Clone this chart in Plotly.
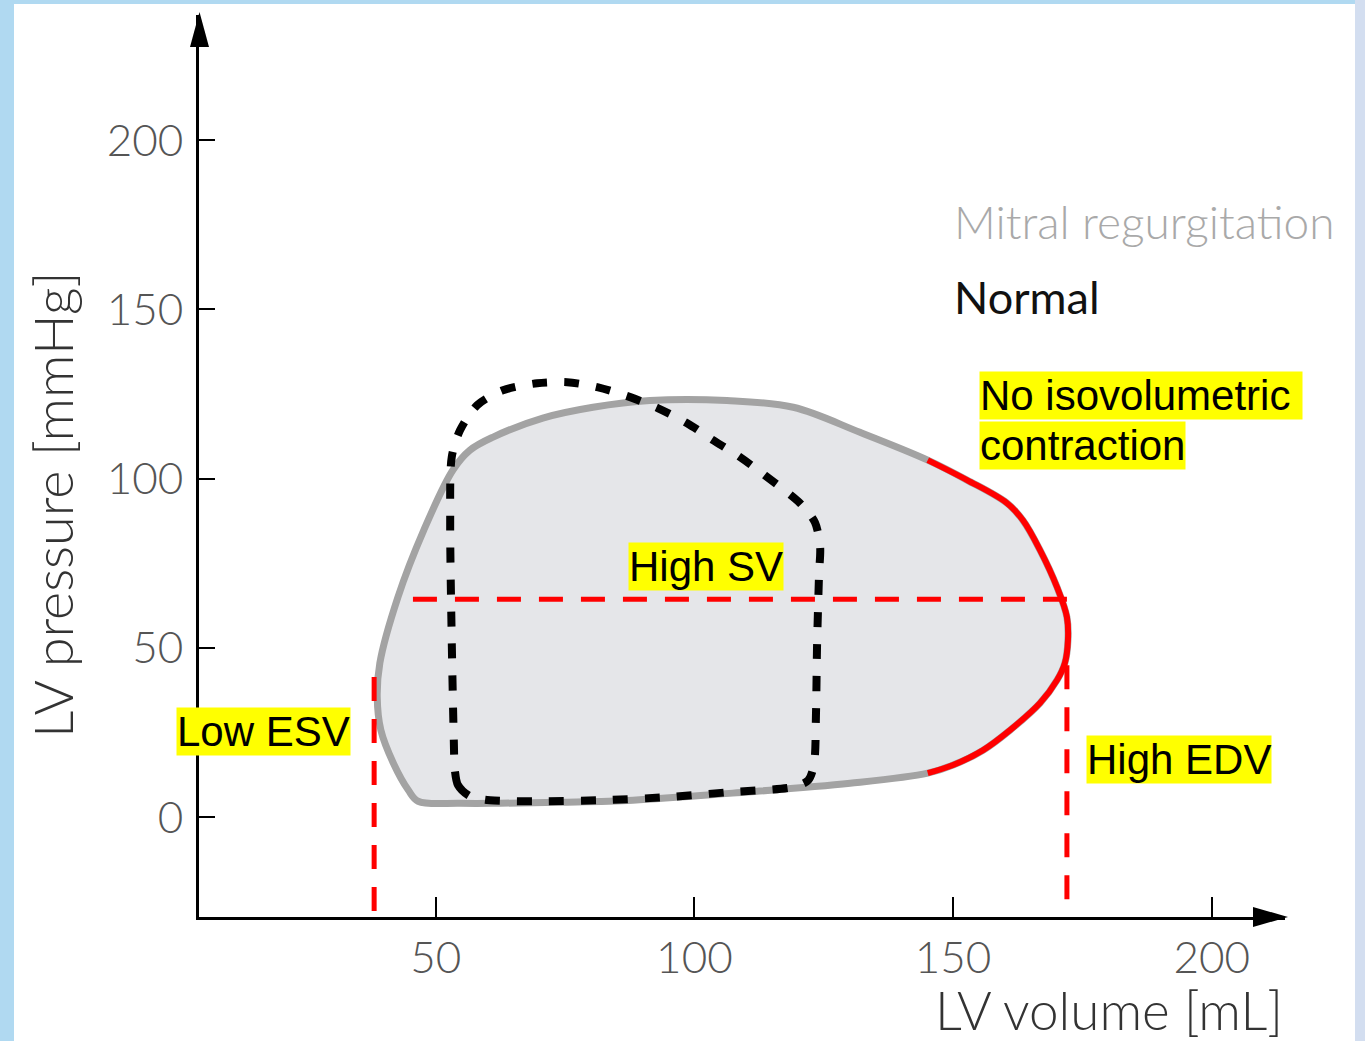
import plotly.graph_objects as go

# ---------------- data ----------------
# Mitral regurgitation loop (LV volume [mL], LV pressure [mmHg])
mr_vol = [46.6, 54.7, 62.4, 74.0, 88.1, 107.4, 130.1, 145.1, 150.0, 155.8, 161.0,
          166.8, 170.1, 171.6, 172.2, 172.0, 170.1, 166.8, 163.5, 160.4, 152.7,
          145.1, 132.0, 119.1, 106.3, 91.4, 80.4, 70.7, 61.1, 56.6, 53.3,
          47.7, 42.7, 39.2, 38.7, 39.4, 41.8, 44.7, 46.6]
mr_pres = [4.7, 4.1, 4.1, 4.4, 5.0, 7.1, 10.0, 13.0, 15.4, 19.8, 25.7,
           33.7, 40.5, 45.5, 52.3, 59.1, 67.9, 78.9, 87.7, 92.8, 99.6,
           105.5, 113.7, 121.1, 123.1, 123.1, 121.1, 117.9, 112.3, 108.4, 102.5,
           84.8, 65.0, 45.5, 35.5, 25.7, 16.0, 8.0, 4.7]

# Highlighted part: no isovolumetric contraction
red_vol = [145.1, 150.0, 155.8, 161.0, 166.8, 170.1, 171.6, 172.2, 172.0, 170.1,
           166.8, 163.5, 160.4, 152.7, 145.1]
red_pres = [13.0, 15.4, 19.8, 25.7, 33.7, 40.5, 45.5, 52.3, 59.1, 67.9,
            78.9, 87.7, 92.8, 99.6, 105.5]

# Normal loop
normal_vol = [53.7, 54.3, 56.6, 60.5, 70.2, 81.8, 94.7, 106.9, 119.1, 122.0, 123.1,
              123.5, 123.7, 124.1, 124.3, 123.3, 120.4, 113.6, 108.8, 103.6, 98.6,
              93.0, 87.6, 81.4, 75.4, 69.6, 63.0, 58.0, 54.7, 53.1, 52.8, 53.1, 53.5, 53.7]
normal_pres = [13.9, 9.5, 6.2, 5.0, 4.7, 5.0, 5.9, 7.4, 8.9, 10.9, 15.4,
               30.7, 50.2, 72.1, 79.8, 87.1, 92.8, 101.0, 106.4, 111.4, 116.4,
               120.8, 124.1, 127.0, 128.5, 128.2, 126.1, 121.7, 114.3, 106.4, 87.7, 52.3, 22.7, 13.9]

# Marker lines
esv_vol = 38.1
esv_top = 41.4
edv_vol = 172.0
edv_top = 44.9
sv_pres = 64.4
sv_start_vol = 45.6

x_ticks = [50, 100, 150, 200]
y_ticks = [0, 50, 100, 150, 200]
x_range = [4.25, 214.15]
y_range = [-29.5, 237.0]

labels = {
    "mr": "Mitral regurgitation",
    "normal": "Normal",
    "xtitle": "LV volume [mL]",
    "ytitle": "LV pressure [mmHg]",
    "esv": "Low ESV",
    "sv": "High SV",
    "edv": "High EDV",
    "iso1": "No isovolumetric\u00a0",
    "iso2": "contraction",
}

# ---------------- layout helpers ----------------
W, H = 1365, 1041
L, R, T, B = 199, 80, 15, 124
PW, PH = W - L - R, H - T - B


def px(xp):
    return (xp - L) / PW


def py(yp):
    return (H - B - yp) / PH


LATO = "Lato, 'Open Sans', sans-serif"
ARIAL = "Arial, 'Liberation Sans', sans-serif"

fig = go.Figure()

# MR loop (filled)
fig.add_trace(go.Scatter(x=mr_vol, y=mr_pres, mode="lines", fill="toself",
                         fillcolor="#e5e6e9",
                         line=dict(color="#a3a3a3", width=7, shape="spline", smoothing=1.0),
                         hoverinfo="skip", showlegend=False))
# red highlighted segment
fig.add_trace(go.Scatter(x=red_vol, y=red_pres, mode="lines",
                         line=dict(color="#ff0000", width=6, shape="spline", smoothing=1.0),
                         hoverinfo="skip", showlegend=False))
# normal loop dotted
fig.add_trace(go.Scatter(x=normal_vol, y=normal_pres, mode="lines",
                         line=dict(color="#000000", width=8, dash="15px,17px",
                                   shape="spline", smoothing=0.8),
                         hoverinfo="skip", showlegend=False))
# red dashed marker lines
red_dash = dict(color="#ff0000", width=5, dash="24px,18px")
fig.add_trace(go.Scatter(x=[sv_start_vol, edv_vol], y=[sv_pres, sv_pres], mode="lines",
                         line=red_dash, hoverinfo="skip", showlegend=False))
fig.add_trace(go.Scatter(x=[esv_vol, esv_vol], y=[esv_top, y_range[0]], mode="lines",
                         line=red_dash, hoverinfo="skip", showlegend=False))
fig.add_trace(go.Scatter(x=[edv_vol, edv_vol], y=[edv_top, y_range[0]], mode="lines",
                         line=red_dash, hoverinfo="skip", showlegend=False))

shapes = [
    # right strip
    dict(type="rect", xref="paper", yref="paper", x0=px(1355), x1=px(W + 5), y0=py(H + 5), y1=py(-5),
         fillcolor="#d3def0", line=dict(width=0), layer="below"),
    # white card
    dict(type="rect", xref="paper", yref="paper", x0=px(14), x1=px(1355), y0=py(H + 5), y1=py(4),
         fillcolor="#ffffff", line=dict(width=0), layer="below"),
    # y-axis arrowhead
    dict(type="path", xref="paper", yref="paper",
         path=f"M {px(199.5)},{py(12)} L {px(190)},{py(47)} L {px(209)},{py(47)} Z",
         fillcolor="#000000", line=dict(width=0)),
    # x-axis arrowhead
    dict(type="path", xref="paper", yref="paper",
         path=f"M {px(1288)},{py(917)} L {px(1253)},{py(907)} L {px(1253)},{py(927)} Z",
         fillcolor="#000000", line=dict(width=0)),
]

annotations = [
    dict(text=labels["mr"], x=px(952), y=py(221), xanchor="left", yanchor="middle",
         font=dict(family=LATO, size=46, color="#a9a9a9", weight=300)),
    dict(text=labels["normal"], x=px(952), y=py(297), xanchor="left", yanchor="middle",
         font=dict(family=LATO, size=45, color="#111111", weight=400)),
    dict(text=labels["xtitle"], x=px(1285), y=py(1010), xanchor="right", yanchor="middle",
         font=dict(family=LATO, size=53, color="#333333", weight=300)),
    dict(text=labels["ytitle"], x=px(52), y=py(505), xanchor="center", yanchor="middle",
         textangle=-90, font=dict(family=LATO, size=54, color="#333333", weight=300)),
    dict(text=labels["esv"], x=px(176), y=py(731), xanchor="left", yanchor="middle",
         bgcolor="#ffff00", borderpad=0, font=dict(family=ARIAL, size=42, color="#000000")),
    dict(text=labels["sv"], x=px(628), y=py(566), xanchor="left", yanchor="middle",
         bgcolor="#ffff00", borderpad=0, font=dict(family=ARIAL, size=42, color="#000000")),
    dict(text=labels["edv"], x=px(1086), y=py(759), xanchor="left", yanchor="middle",
         bgcolor="#ffff00", borderpad=0, font=dict(family=ARIAL, size=42, color="#000000")),
    dict(text=labels["iso1"], x=px(979), y=py(395), xanchor="left", yanchor="middle",
         bgcolor="#ffff00", borderpad=0, font=dict(family=ARIAL, size=42, color="#000000")),
    dict(text=labels["iso2"], x=px(979), y=py(446), xanchor="left", yanchor="middle",
         bgcolor="#ffff00", borderpad=0, font=dict(family=ARIAL, size=42, color="#000000")),
]
for a in annotations:
    a.update(xref="paper", yref="paper", showarrow=False)

fig.update_layout(
    width=W, height=H,
    margin=dict(l=L, r=R, t=T, b=B, pad=0),
    paper_bgcolor="#b0d9f1",
    plot_bgcolor="rgba(0,0,0,0)",
    shapes=shapes,
    annotations=annotations,
    showlegend=False,
    xaxis=dict(range=x_range, showgrid=False, zeroline=False, showline=True,
               linecolor="#000000", linewidth=3, ticks="inside", ticklen=20, tickwidth=2,
               tickcolor="#000000", tickvals=x_ticks, ticklabelstandoff=0,
               tickfont=dict(family=LATO, size=44, color="#555555", weight=300),
               fixedrange=True),
    yaxis=dict(range=y_range, showgrid=False, zeroline=False, showline=True,
               linecolor="#000000", linewidth=3, ticks="inside", ticklen=16, tickwidth=2,
               tickcolor="#000000", tickvals=y_ticks, ticklabelstandoff=4,
               tickfont=dict(family=LATO, size=44, color="#555555", weight=300),
               fixedrange=True),
)

fig.write_html("out.html", config={"displayModeBar": False},
               post_script="document.body.style.margin='0px';document.body.style.overflow='hidden';")
